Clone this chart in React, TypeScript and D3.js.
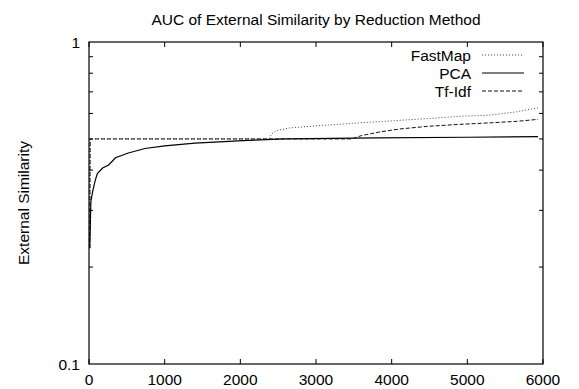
import React from "react";
import * as d3 from "d3";

const W = 579;
const H = 389;

const titleText = "AUC of External Similarity by Reduction Method";
const yLabelText = "External Similarity";
const xTicks = [0, 1000, 2000, 3000, 4000, 5000, 6000];
const yMinorTicks = [0.2, 0.3, 0.4, 0.5, 0.6, 0.7, 0.8, 0.9];
const yLabelTicks = [0.1, 1];

const fastMapX = [10, 15, 2370, 2420, 2480, 2656, 3000, 3581, 3846, 4507, 4903, 5300, 5652, 5934];
const fastMapY = [0.229, 0.5, 0.5, 0.52, 0.531, 0.541, 0.549, 0.561, 0.566, 0.579, 0.588, 0.593, 0.607, 0.625];

const pcaX = [10, 25, 50, 80, 110, 180, 260, 350, 520, 740, 1000, 1400, 2100, 2600, 3800, 5000, 5934];
const pcaY = [0.229, 0.32, 0.345, 0.37, 0.39, 0.406, 0.415, 0.437, 0.452, 0.467, 0.476, 0.485, 0.495, 0.5, 0.504, 0.506, 0.508];

const tfIdfX = [10, 15, 3470, 3600, 3850, 4110, 4470, 4900, 5300, 5650, 5934];
const tfIdfY = [0.229, 0.5, 0.5, 0.512, 0.526, 0.537, 0.547, 0.555, 0.561, 0.567, 0.575];

const seriesNames = ["FastMap", "PCA", "Tf-Idf"];

export default function App() {
  const left = 89, right = 543, top = 42, bottom = 364;
  const x = d3.scaleLinear().domain([0, 6000]).range([left, right]);
  const y = d3.scaleLog().domain([0.1, 1]).range([bottom, top]);
  const line = d3.line<[number, number]>().x((d) => x(d[0])).y((d) => y(d[1]));
  const zip = (a: number[], b: number[]) => a.map((v, i) => [v, b[i]] as [number, number]);

  const series = [
    { name: seriesNames[0], data: zip(fastMapX, fastMapY), stroke: "#444", dash: "1,2", width: 1 },
    { name: seriesNames[1], data: zip(pcaX, pcaY), stroke: "#000", dash: "", width: 1.2 },
    { name: seriesNames[2], data: zip(tfIdfX, tfIdfY), stroke: "#111", dash: "4,2", width: 1 },
  ];
  const font = "'Liberation Sans', Arial, Helvetica, sans-serif";
  const fs = 15.5;
  const legendY = [55, 73, 91];

  return (
    <svg width={W} height={H} style={{ position: "absolute", left: 0, top: 0, background: "#fff" }} fontFamily={font}>
      <rect x={0} y={0} width={W} height={H} fill="#fff" />
      <text x={(left + right) / 2} y={25} textAnchor="middle" fontSize={fs} fill="#000">{titleText}</text>
      <text transform={`translate(23,${(top + bottom) / 2}) rotate(-90)`} textAnchor="middle" dominantBaseline="central" fontSize={fs} fill="#000">{yLabelText}</text>
      {xTicks.map((t) => (
        <g key={"x" + t}>
          <line x1={x(t)} x2={x(t)} y1={bottom} y2={bottom - 5} stroke="#000" />
          <line x1={x(t)} x2={x(t)} y1={top} y2={top + 5} stroke="#000" />
          <text x={x(t)} y={385} textAnchor="middle" fontSize={fs} fill="#000">{t}</text>
        </g>
      ))}
      {yMinorTicks.map((t) => (
        <g key={"y" + t}>
          <line x1={left} x2={left + 4} y1={y(t)} y2={y(t)} stroke="#000" />
          <line x1={right} x2={right - 4} y1={y(t)} y2={y(t)} stroke="#000" />
        </g>
      ))}
      {yLabelTicks.map((t) => (
        <text key={"yl" + t} x={80} y={y(t)} textAnchor="end" dominantBaseline="central" fontSize={fs} fill="#000">{t}</text>
      ))}
      {series.map((s) => (
        <path key={s.name} d={line(s.data) || ""} fill="none" stroke={s.stroke} strokeWidth={s.width} strokeDasharray={s.dash || undefined} />
      ))}
      <rect x={left} y={top} width={right - left} height={bottom - top} fill="none" stroke="#000" strokeWidth={1.2} />
      {series.map((s, i) => (
        <g key={"lg" + s.name}>
          <text x={471} y={legendY[i]} textAnchor="end" dominantBaseline="central" fontSize={fs} fill="#000">{s.name}</text>
          <line x1={482} x2={524} y1={legendY[i]} y2={legendY[i]} stroke={s.stroke} strokeWidth={s.width} strokeDasharray={s.dash || undefined} />
        </g>
      ))}
    </svg>
  );
}
